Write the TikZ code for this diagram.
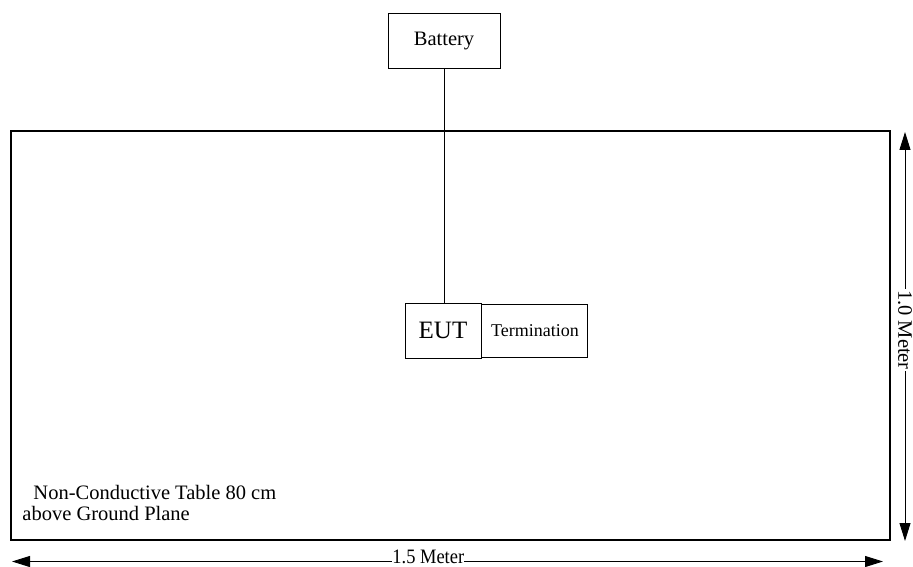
\documentclass[tikz,border=0pt]{standalone}
\usepackage{fontspec}
\setmainfont{Liberation Serif}
\usetikzlibrary{arrows.meta}

\tikzstyle{unit}=[draw,line width=0.9pt,inner sep=0pt]
\tikzstyle{dim}=[{Triangle[length=18pt,width=11pt]}-{Triangle[length=18pt,width=11pt]},line width=0.9pt]

\begin{document}
\begin{tikzpicture}[x=1pt,y=-1pt,line width=0.9pt,font=\fontsize{20.5}{21}\selectfont]
\useasboundingbox (0,0) rectangle (913,567);
%\draw[help lines] (0,0) grid[step=50] (913,567);
\node[draw,line width=1.8pt,minimum width=879pt,minimum height=409pt] (table) at (450.5,335.5) {};
\node[unit,minimum width=112pt,minimum height=55pt] (bat) at (444,41) {Battery};
\node[unit,minimum width=76pt,minimum height=55pt,font=\fontsize{25}{30}\selectfont] (eut) at (443,330.5) {EUT};
\node[unit,minimum width=106pt,minimum height=53pt,anchor=west,font=\fontsize{18}{20}\selectfont] (term) at (eut.east) {Termination};
\node[anchor=base west,align=left,inner sep=0pt] (label) at (22,520)
  {\hspace{11pt}Non-Conductive Table 80 cm\\above Ground Plane};
\coordinate (hl) at (12,561.5);
\coordinate (hr) at (883,561.5);
\coordinate (vt) at (905,132);
\coordinate (vb) at (905,541);
\draw (bat.south) -- (bat.south |- eut.north);
\draw[dim] (hl) -- node[pos=0.478,anchor=base,yshift=-2pt,fill=white,inner sep=0pt,xscale=0.9] (w) {1.5 Meter} (hr);
\draw[dim] (vt) -- node[pos=0.484,fill=white,inner sep=1pt,rotate=-90] (h) {1.0 Meter} (vb);
\end{tikzpicture}
\end{document}
